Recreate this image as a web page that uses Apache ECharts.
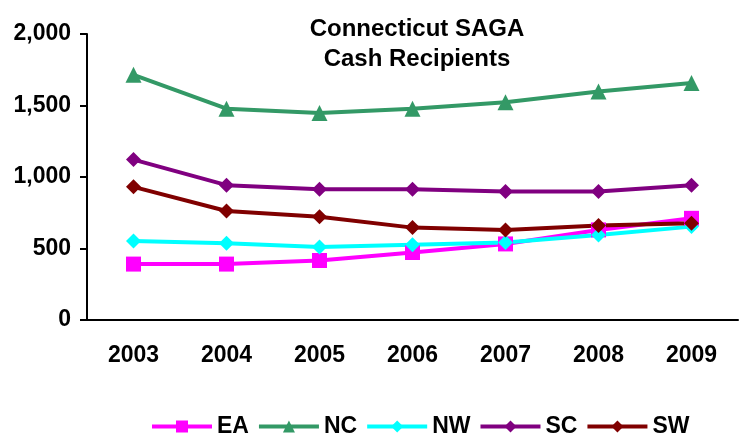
<!DOCTYPE html>
<html lang="en">

<head>
    <meta charset="UTF-8">
    <title>Connecticut SAGA Cash Recipients</title>
    <script src="https://cdn.jsdelivr.net/npm/echarts@6/dist/echarts.min.js"></script>
    <style>
        * {
            margin: 0px;
            padding: 0px;
        }

        #chart {
            width: 744px;
            height: 434px;
            background: #fff;
        }
    </style>
</head>

<body>
    <div id="chart"></div>

    <script type="text/javascript">
        // 数据
        var years = ['2003', '2004', '2005', '2006', '2007', '2008', '2009'];
        var EA = [391, 391, 416, 472, 532, 630, 711];
        var NC = [1715, 1478, 1448, 1478, 1523, 1598, 1658];
        var NW = [553, 537, 510, 526, 542, 595, 653];
        var SC = [1122, 943, 915, 915, 899, 899, 943];
        var SW = [931, 762, 722, 646, 630, 660, 677];

        var font = 'Liberation Sans, Arial, sans-serif';

        function line(name, data, color, symbol, size) {
            return {
                name: name,
                type: 'line',
                data: data,
                symbol: symbol,
                symbolSize: size,
                lineStyle: { color: color, width: 4 },
                itemStyle: { color: color },
                z: 2
            };
        }

        var myChart = echarts.init(document.getElementById('chart'));

        var option = {
            animation: false,
            title: {
                text: 'Connecticut SAGA\nCash Recipients',
                left: 412,
                top: 9,
                textAlign: 'center',
                textStyle: {
                    fontFamily: font,
                    fontSize: 24,
                    fontWeight: 'bold',
                    color: '#000',
                    lineHeight: 30
                }
            },
            legend: {
                top: 410,
                left: 145,
                itemWidth: 60,
                itemHeight: 15,
                itemGap: 8,
                lineStyle: { width: 4 },
                textStyle: {
                    fontFamily: font,
                    fontSize: 23,
                    fontWeight: 'bold',
                    color: '#000'
                },
                data: ['EA', 'NC', 'NW', 'SC', 'SW']
            },
            grid: {
                left: 87,
                right: 6,
                top: 34,
                bottom: 114
            },
            xAxis: {
                type: 'category',
                data: years,
                boundaryGap: true,
                axisLine: { lineStyle: { color: '#000', width: 2 } },
                axisTick: { inside: false, length: 6, lineStyle: { color: '#000', width: 2 } },
                axisLabel: {
                    fontFamily: font,
                    fontSize: 23,
                    fontWeight: 'bold',
                    color: '#000',
                    margin: 24
                },
                splitLine: { show: false }
            },
            yAxis: {
                type: 'value',
                min: 0,
                max: 2000,
                interval: 500,
                axisLine: { show: true, lineStyle: { color: '#000', width: 2 } },
                axisTick: { show: true, length: 7, lineStyle: { color: '#000', width: 2 } },
                axisLabel: {
                    fontFamily: font,
                    fontSize: 23,
                    fontWeight: 'bold',
                    color: '#000',
                    margin: 16,
                    formatter: function (v) {
                        return v.toLocaleString('en-US');
                    }
                },
                splitLine: { show: false }
            },
            series: [
                line('EA', EA, '#FF00FF', 'rect', 15),
                line('NC', NC, '#339966', 'triangle', 16),
                line('NW', NW, '#00FFFF', 'diamond', 15),
                line('SC', SC, '#800080', 'diamond', 15),
                line('SW', SW, '#800000', 'diamond', 15)
            ]
        };

        myChart.setOption(option);
    </script>
</body>

</html>
